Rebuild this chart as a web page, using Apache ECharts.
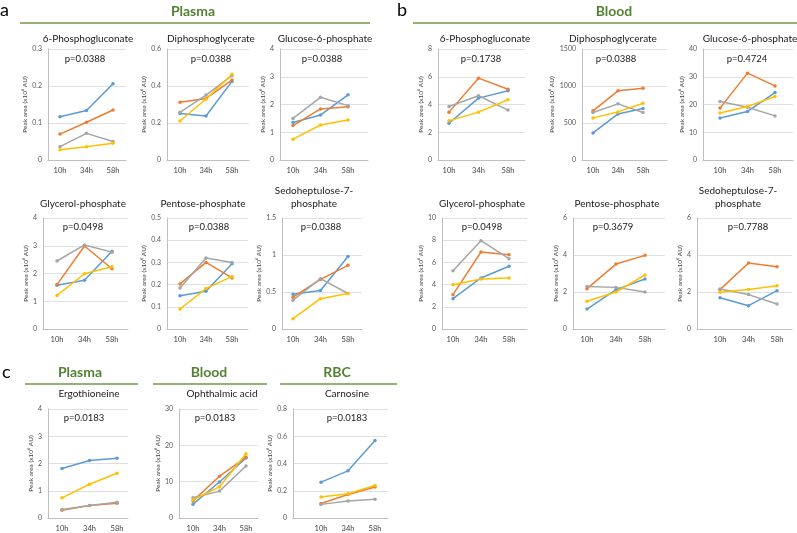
<!DOCTYPE html>
<html><head><meta charset="utf-8">
<script src="https://cdn.jsdelivr.net/npm/echarts@6/dist/echarts.min.js"></script>
<style>html,body{margin:0;padding:0;background:#fff}#c{width:797px;height:533px}</style>
</head><body><div id="c"></div><script>
// ---------- DATA ----------
const times = ['10h', '34h', '58h'];
const lineColors = ['#5B9BD5', '#ED7D31', '#A5A5A5', '#FFC000'];
// each panel: [blue, orange, gray, yellow], values at 10h, 34h, 58h
const plasma6PG  = [[0.117, 0.134, 0.206], [0.070, 0.102, 0.135], [0.036, 0.072, 0.050], [0.028, 0.036, 0.045]];
const plasmaDPG  = [[0.252, 0.238, 0.425], [0.312, 0.333, 0.432], [0.258, 0.351, 0.456], [0.211, 0.330, 0.463]];
const plasmaG6P  = [[1.35, 1.62, 2.35], [1.24, 1.84, 1.92], [1.50, 2.26, 1.96], [0.75, 1.26, 1.44]];
const plasmaGlyP = [[1.58, 1.76, 2.80], [1.60, 2.99, 2.17], [2.45, 3.03, 2.77], [1.21, 1.99, 2.24]];
const plasmaPenP = [[0.150, 0.170, 0.294], [0.203, 0.300, 0.230], [0.185, 0.320, 0.300], [0.090, 0.182, 0.237]];
const plasmaS7P  = [[0.47, 0.52, 0.98], [0.43, 0.67, 0.86], [0.39, 0.68, 0.48], [0.14, 0.41, 0.48]];
const blood6PG   = [[2.65, 4.46, 4.99], [3.45, 5.90, 5.10], [3.86, 4.63, 3.60], [2.82, 3.45, 4.34]];
const bloodDPG   = [[366, 623, 696], [664, 935, 971], [641, 759, 641], [569, 650, 768]];
const bloodG6P   = [[15.1, 17.5, 24.3], [18.7, 31.3, 26.7], [21.1, 19.0, 15.9], [16.9, 19.3, 22.9]];
const bloodGlyP  = [[2.73, 4.60, 5.65], [3.09, 6.94, 6.70], [5.25, 7.96, 6.34], [3.99, 4.50, 4.60]];
const bloodPenP  = [[1.08, 2.13, 2.70], [2.18, 3.51, 3.98], [2.30, 2.25, 2.00], [1.50, 2.00, 2.92]];
const bloodS7P   = [[1.69, 1.26, 2.07], [2.13, 3.57, 3.37], [2.16, 1.86, 1.35], [1.98, 2.13, 2.34]];
const plasmaErgo = [[1.82, 2.11, 2.19], [0.28, 0.46, 0.54], [0.31, 0.46, 0.58], [0.74, 1.24, 1.64]];
const bloodOph   = [[3.8, 9.9, 16.5], [4.7, 11.5, 16.7], [5.6, 7.4, 14.3], [5.0, 8.6, 17.7]];
const rbcCarn    = [[0.263, 0.346, 0.568], [0.107, 0.173, 0.227], [0.100, 0.125, 0.137], [0.154, 0.178, 0.239]];

const panelTitles = [
  ['6-Phosphogluconate'], ['Diphosphoglycerate'], ['Glucose-6-phosphate'],
  ['6-Phosphogluconate'], ['Diphosphoglycerate'], ['Glucose-6-phosphate'],
  ['Glycerol-phosphate'], ['Pentose-phosphate'], ['Sedoheptulose-7-', 'phosphate'],
  ['Glycerol-phosphate'], ['Pentose-phosphate'], ['Sedoheptulose-7-', 'phosphate'],
  ['Ergothioneine'], ['Ophthalmic acid'], ['Carnosine']
];
const pValues = ['p=0.0388', 'p=0.0388', 'p=0.0388', 'p=0.1738', 'p=0.0388', 'p=0.4724',
  'p=0.0498', 'p=0.0388', 'p=0.0388', 'p=0.0498', 'p=0.3679', 'p=0.7788',
  'p=0.0183', 'p=0.0183', 'p=0.0183'];
const yMaxes = [0.3, 0.6, 4, 8, 1500, 40, 4, 0.5, 1.5, 10, 6, 6, 4, 30, 0.8];
const yIntervals = [0.1, 0.2, 1, 2, 500, 10, 1, 0.1, 0.5, 2, 2, 2, 1, 10, 0.2];
const panelData = [plasma6PG, plasmaDPG, plasmaG6P, blood6PG, bloodDPG, bloodG6P,
  plasmaGlyP, plasmaPenP, plasmaS7P, bloodGlyP, bloodPenP, bloodS7P,
  plasmaErgo, bloodOph, rbcCarn];
const yName = 'Peak area (x10\u2076 AU)';

// ---------- LAYOUT (style only) ----------
// [axisX, x of first point, x of last point, right edge, row]
const geo = [
  [48, 60, 113, 126, 0], [167, 180, 232, 249, 0], [280, 293, 348, 368, 0],
  [438, 449, 508, 525, 0], [582, 593, 643, 667, 0], [703, 720, 775, 793, 0],
  [43, 57, 112, 128, 1], [167, 180, 232, 248, 1], [282, 293, 348, 362, 1],
  [442, 453, 509, 527, 1], [573, 587, 645, 665, 1], [697, 720, 777, 792, 1],
  [48, 62, 117, 128, 2], [179, 193, 246, 258, 2], [293, 321, 375, 388, 2]
];
const rows = [
  {top: 49, bottom: 160, title: 39, p: 59},
  {top: 218, bottom: 329, title: 204, p: 227},
  {top: 409, bottom: 519, title: 394, p: 418}
];
const titleX = [88, 211, 325, 485, 613, 750, 83, 203, 314, 482, 617, 738, 89, 222, 347];
const pX = [85, 211, 322, 481, 616, 747, 83, 209, 321, 482, 613, 748, 84, 215, 347];

const FONT = 'Lato, "Open Sans", "Liberation Sans", sans-serif';
const GREEN_T = '#548235';
const GREEN_L = '#6f9a47';

const grids = [], xAxes = [], yAxes = [], series = [], graphics = [];
geo.forEach((g, i) => {
  const [ax, x0, x2, right, r] = g;
  const row = rows[r];
  const sp = (x2 - x0) / 2;
  grids.push({left: ax, top: row.top, width: right - ax, height: row.bottom - row.top, containLabel: false});
  xAxes.push({
    type: 'value', gridIndex: i,
    min: -(x0 - ax) / sp, max: 2 + (right - x2) / sp,
    axisLine: {show: true, onZero: false, lineStyle: {color: '#bfbfbf', width: 1}},
    axisTick: {show: false}, splitLine: {show: false},
    axisLabel: {customValues: [0, 1, 2], formatter: v => times[Math.round(v)],
      fontSize: 7.5, color: '#404040', margin: 7, fontFamily: FONT}
  });
  const labLen = String(yMaxes[i]).length;
  yAxes.push({
    type: 'value', gridIndex: i, min: 0, max: yMaxes[i], interval: yIntervals[i],
    axisLine: {show: true, onZero: false, lineStyle: {color: '#bfbfbf', width: 1}},
    axisTick: {show: false},
    splitLine: {show: true, lineStyle: {color: '#e0e0e0', width: 1}},
    axisLabel: {fontSize: 7, color: '#595959', margin: 6, fontFamily: FONT,
      formatter: v => String(Math.round(v * 1000) / 1000)},
    name: yName, nameLocation: 'middle', nameGap: 7 + labLen * 3.6,
    nameTextStyle: {fontSize: 6.5, color: '#404040', fontFamily: FONT}
  });
  panelData[i].forEach((vals, k) => {
    series.push({
      type: 'line', xAxisIndex: i, yAxisIndex: i,
      data: vals.map((v, j) => [j, v]),
      symbol: 'circle', symbolSize: 3.5, showSymbol: true,
      lineStyle: {color: lineColors[k], width: 1.5},
      itemStyle: {color: lineColors[k]},
      silent: true, animation: false
    });
  });
  // titles
  const tl = panelTitles[i];
  tl.forEach((t, li) => {
    const y = tl.length === 1 ? row.title : row.title - 13 * (tl.length - 1 - li);
    graphics.push({type: 'text', x: titleX[i], y: y,
      style: {text: t, fontSize: 10, fill: '#1a1a1a', fontFamily: FONT, textAlign: 'center', textVerticalAlign: 'middle'}});
  });
  graphics.push({type: 'text', x: pX[i], y: row.p,
    style: {text: pValues[i], fontSize: 9.5, fill: '#1a1a1a', fontFamily: FONT, textAlign: 'center', textVerticalAlign: 'middle'}});
});

// section headings
const heads = [
  {t: 'Plasma', x: 193, y: 11, x1: 20, x2: 370, ly: 23},
  {t: 'Blood', x: 614, y: 11, x1: 413, x2: 797, ly: 23},
  {t: 'Plasma', x: 80, y: 372, x1: 25, x2: 138, ly: 384},
  {t: 'Blood', x: 209, y: 372, x1: 153, x2: 267, ly: 384},
  {t: 'RBC', x: 337, y: 372, x1: 280, x2: 397, ly: 384}
];
heads.forEach(h => {
  graphics.push({type: 'text', x: h.x, y: h.y,
    style: {text: h.t, fontSize: 14, fontWeight: 'bold', fill: GREEN_T, fontFamily: FONT, textAlign: 'center', textVerticalAlign: 'middle'}});
  graphics.push({type: 'line', shape: {x1: h.x1, y1: h.ly, x2: h.x2, y2: h.ly},
    style: {stroke: GREEN_L, lineWidth: 1.5}});
});
[['a', 0, 10], ['b', 397, 10], ['c', 2, 372]].forEach(([t, x, y]) => {
  graphics.push({type: 'text', x: x, y: y,
    style: {text: t, fontSize: 18, fill: '#000', fontFamily: FONT, textAlign: 'left', textVerticalAlign: 'middle'}});
});

const chart = echarts.init(document.getElementById('c'), null, {renderer: 'canvas'});
chart.setOption({
  animation: false,
  backgroundColor: '#ffffff',
  grid: grids, xAxis: xAxes, yAxis: yAxes, series: series,
  graphic: graphics
});
</script></body></html>
